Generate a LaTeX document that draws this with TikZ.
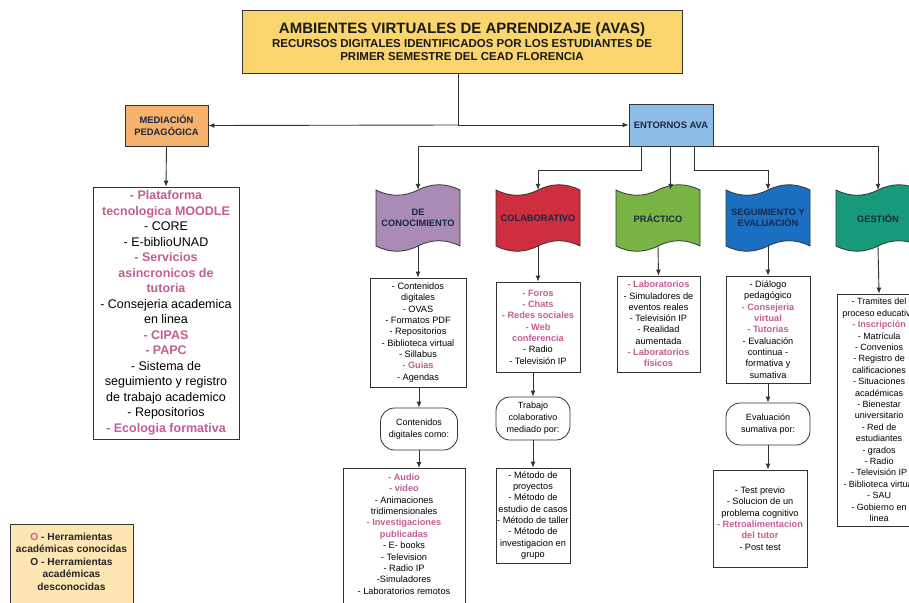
\documentclass[tikz,border=0pt]{standalone}
\usepackage{fontspec}
\setmainfont{Liberation Sans}
\usetikzlibrary{arrows.meta}
\definecolor{linec}{HTML}{333333}
\definecolor{navyc}{HTML}{1C2744}
\definecolor{pinkc}{HTML}{C25E90}
\definecolor{titlec}{HTML}{FAD56E}
\definecolor{medc}{HTML}{F6B26B}
\definecolor{entc}{HTML}{8EBDE8}
\definecolor{dcc}{HTML}{A98BB6}
\definecolor{colc}{HTML}{CE2E3E}
\definecolor{prac}{HTML}{78B545}
\definecolor{segc}{HTML}{1B6FC0}
\definecolor{gesc}{HTML}{17997A}
\definecolor{legc}{HTML}{FCE6B2}
\newcommand\pinkt[1]{\textcolor{pinkc}{\bfseries #1}}
\newcommand\wavefill[2]{%
  \filldraw[fill=#2, draw=linec, line width=0.8pt]
  ({#1-42},190) .. controls ({#1-28},197) and ({#1-14},197) .. (#1,190)
  .. controls ({#1+14},183) and ({#1+28},183) .. ({#1+42},190)
  -- ({#1+42},246) .. controls ({#1+28},239) and ({#1+14},239) .. (#1,246)
  .. controls ({#1-14},253) and ({#1-28},253) .. ({#1-42},246) -- cycle;}
\begin{document}
\begin{tikzpicture}[x=1pt,y=-1pt,
  every node/.style={inner sep=0pt, align=center},
  box/.style={draw=linec, line width=0.8pt, fill=white},
  lst/.style={box, font=\fontsize{9.2}{11.3}\selectfont},
  wv/.style={minimum width=84pt, minimum height=56pt, font=\bfseries\fontsize{9.3}{11}\selectfont, text=navyc},
  rnd/.style={box, rounded corners=14pt, font=\fontsize{9}{12}\selectfont},
  arr/.style={draw=linec, line width=0.9pt, -{Latex[length=6pt,width=5pt]}},
  ln/.style={draw=linec, line width=0.9pt}]
\useasboundingbox (0,0) rectangle (909,602);
\fill[white] (0,0) rectangle (909,602);

% title
\node[draw=linec, line width=0.8pt, fill=titlec, minimum width=440pt, minimum height=63pt,
  text=black!90, font=\bfseries\fontsize{11.5}{13.4}\selectfont] (title) at (462,41.5)
  {{\fontsize{15}{15}\selectfont AMBIENTES VIRTUALES DE APRENDIZAJE (AVAS)}\\[0.5pt]
   RECURSOS DIGITALES IDENTIFICADOS POR LOS ESTUDIANTES DE\\
   PRIMER SEMESTRE DEL CEAD FLORENCIA};

% mediacion
\node[draw=linec, line width=0.8pt, fill=medc, minimum width=83pt, minimum height=41pt,
  text=navyc, font=\bfseries\fontsize{9.4}{11.4}\selectfont] (med) at (166.5,125.5)
  {MEDIACIÓN\\PEDAGÓGICA};
\node[box, font=\fontsize{12.5}{15.5}\selectfont, minimum width=146pt, minimum height=252pt] (mlist) at (166,313)
  {\pinkt{- Plataforma}\\ \pinkt{tecnologica MOODLE}\\ - CORE\\ - E-biblioUNAD\\
   \pinkt{- Servicios}\\ \pinkt{asincronicos de}\\ \pinkt{tutoria}\\
   - Consejeria academica\\ en linea\\ \pinkt{- CIPAS}\\ \pinkt{- PAPC}\\
   - Sistema de\\ seguimiento y registro\\ de trabajo academico\\ - Repositorios\\
   \pinkt{- Ecologia formativa}};

% entornos
\node[draw=linec, line width=0.8pt, fill=entc, minimum width=84pt, minimum height=42pt,
  text=navyc, font=\bfseries\fontsize{9.4}{11}\selectfont] (ent) at (671,125) {ENTORNOS AVA};

% waves
\wavefill{418}{dcc}
\wavefill{538}{colc}
\wavefill{658}{prac}
\wavefill{768}{segc}
\wavefill{878}{gesc}
\node[wv] (dc) at (418,218) {DE\\CONOCIMIENTO};
\node[wv] (col) at (538,218) {COLABORATIVO};
\node[wv] (pra) at (658,218) {PRÁCTICO};
\node[wv] (seg) at (768,218) {SEGUIMIENTO Y\\EVALUACIÓN};
\node[wv] (ges) at (878,218) {GESTIÓN};

% lists
\node[lst, minimum width=96pt, minimum height=109pt] (dcl) at (418,332.5)
  {- Contenidos\\ digitales\\ - OVAS\\ - Formatos PDF\\ - Repositorios\\ - Biblioteca virtual\\
   - Sillabus\\ \pinkt{- Guias}\\ - Agendas};
\node[lst, minimum width=84pt, minimum height=90pt] (coll) at (538,327)
  {\pinkt{- Foros}\\ \pinkt{- Chats}\\ \pinkt{- Redes sociales}\\ \pinkt{- Web}\\ \pinkt{conferencia}\\
   - Radio\\ - Televisión IP};
\node[rnd, minimum width=77pt, minimum height=42pt] (cdc) at (419,429)
  {Contenidos\\ digitales como:};
\node[rnd, minimum width=74pt, minimum height=43pt] (tcm) at (533,418.5)
  {Trabajo\\ colaborativo\\ mediado por:};
\node[box, minimum width=122pt, minimum height=160pt, anchor=north] (aud) at (404,468) {};
\node[font=\fontsize{9.2}{11.4}\selectfont, anchor=north] (audt) at (404,473.5)
  {\pinkt{- Audio}\\ \pinkt{- video}\\ - Animaciones\\ tridimensionales\\
   \pinkt{- Investigaciones}\\ \pinkt{publicadas}\\ - E- books\\ - Television\\ - Radio IP\\
   -Simuladores\\ - Laboratorios remotos};
\node[lst, minimum width=74pt, minimum height=95pt] (met) at (533,515.5)
  {- Método de\\ proyectos\\ - Método de\\ estudio de casos\\ - Método de taller\\
   - Método de\\ investigacion en\\ grupo};
\node[lst, minimum width=83pt, minimum height=96pt] (pral) at (658.5,324)
  {\pinkt{- Laboratorios}\\ - Simuladores de\\ eventos reales\\ - Televisión IP\\ - Realidad\\
   aumentada\\ \pinkt{- Laboratorios}\\ \pinkt{físicos}};
\node[lst, minimum width=84pt, minimum height=107pt] (segl) at (768,329.5)
  {- Diálogo\\ pedagógico\\ \pinkt{- Consejeria}\\ \pinkt{virtual}\\ \pinkt{- Tutorias}\\
   - Evaluación\\ continua -\\ formativa y\\ sumativa};
\node[rnd, minimum width=84pt, minimum height=42pt] (esp) at (768,424)
  {Evaluación\\ sumativa por:};
\node[lst, minimum width=94pt, minimum height=97pt] (tst) at (760,518.5)
  {- Test previo\\ - Solucion de un\\ problema cognitivo\\ \pinkt{- Retroalimentacion}\\
   \pinkt{del tutor}\\ - Post test};
\node[box, minimum width=84pt, minimum height=232pt, font=\fontsize{9}{11.4}\selectfont] (gesl) at (879,410)
  {- Tramites del\\ proceso educativo\\ \pinkt{- Inscripción}\\ - Matrícula\\ - Convenios\\
   - Registro de\\ calificaciones\\ - Situaciones\\ académicas\\ - Bienestar\\ universitario\\
   - Red de\\ estudiantes\\ - grados\\ - Radio\\ - Televisión IP\\ - Biblioteca virtual\\
   - SAU\\ - Gobierno en\\ linea};

% legend
\node[draw=linec, line width=0.8pt, fill=legc, minimum width=123pt, minimum height=100pt, anchor=north] (leg) at (71.5,524) {};
\node[font=\bfseries\fontsize{10.2}{12.6}\selectfont, text=black!85, anchor=north] (legt) at (71.5,532.5)
  {\textcolor{pinkc}{O} - Herramientas\\ académicas conocidas\\ O - Herramientas\\ académicas\\ desconocidas};

% connectors
\draw[ln] ([xshift=-4pt]title.south) -- ([xshift=-4pt]title.south |- ent.west) coordinate (jn);
\draw[arr] (jn) -- (med.east);
\draw[arr] (jn) -- (ent.west);
\draw[arr] (med.south) -- (mlist.north);
\draw[arr] (ent.south west) -| (dc.north);
\draw[arr] ([xshift=13pt]ent.south west) -- ++(0,24) -| (col.north);
\draw[arr] ([xshift=42pt]ent.south west) -- ([xshift=42pt]ent.south west |- pra.north);
\draw[arr] ([xshift=66pt]ent.south west) -- ++(0,24) -| (seg.north);
\draw[arr] (ent.south east) -| (ges.north);
\draw[arr] (dc.south) -- (dcl.north);
\draw[arr] (col.south) -- (coll.north);
\draw[arr] (pra.south) -- (pral.north);
\draw[arr] (seg.south) -- (segl.north);
\draw[arr] (ges.south) -- (gesl.north);
\draw[arr] (cdc.north |- dcl.south) -- (cdc.north);
\draw[arr] (cdc.south) -- (cdc.south |- aud.north);
\draw[arr] (tcm.north |- coll.south) -- (tcm.north);
\draw[arr] (tcm.south) -- (met.north);
\draw[arr] (segl.south) -- (esp.north);
\draw[arr] (esp.south) -- (esp.south |- tst.north);
\end{tikzpicture}
\end{document}
